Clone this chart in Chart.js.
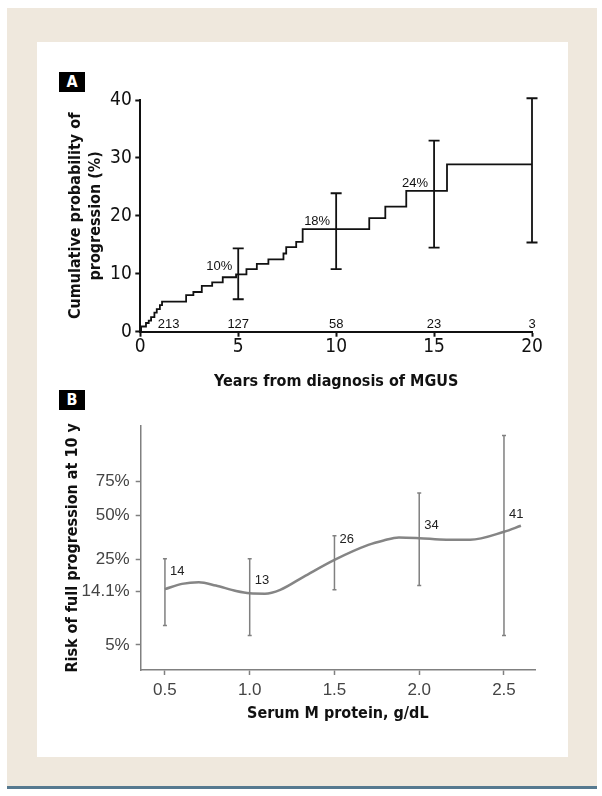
<!DOCTYPE html>
<html>
<head>
<meta charset="utf-8">
<script src="https://cdn.jsdelivr.net/npm/chart.js@4.4.0/dist/chart.umd.min.js"></script>
<style>
  html, body { margin: 0; padding: 0; background: #fff; }
  body { width: 602px; height: 796px; position: relative; overflow: hidden; }
  #frame { position: absolute; left: 7px; top: 8px; width: 590px; height: 778px; background: #efe8dd; }
  #rule { position: absolute; left: 7px; top: 786px; width: 590px; height: 3px; background: #56798f; }
  #panel { position: absolute; left: 37px; top: 42px; width: 531px; height: 715px; background: #fff; }
  .tag { position: absolute; width: 26px; height: 20px; line-height: 20px; background: #000; color: #fff;
         font: bold 16px "DejaVu Sans Condensed", "Liberation Sans", sans-serif; text-align: center; }
  canvas { position: absolute; }
</style>
</head>
<body>
<div id="frame"></div>
<div id="rule"></div>
<div id="panel"></div>
<div class="tag" style="left:59px; top:72px;">A</div>
<div class="tag" style="left:59px; top:390px;">B</div>
<canvas id="chartA" width="531" height="355" style="left:37px; top:42px;"></canvas>
<canvas id="chartB" width="531" height="360" style="left:37px; top:397px;"></canvas>
<script>
// ---- panel A: Kaplan-Meier curve ----
const kmYears = [0, 0.04, 0.29, 0.43, 0.55, 0.72, 0.84, 1.0, 1.11, 2.34, 2.71, 3.14, 3.67, 4.21, 4.89,
                 5.42, 5.95, 6.54, 7.31, 7.45, 7.96, 8.29, 11.69, 12.51, 13.58, 15.66, 20];
const kmProb = [0, 0.9, 1.5, 1.9, 2.5, 3.3, 3.9, 4.6, 5.2, 6.3, 6.85, 7.9, 8.5, 9.4, 9.9,
                10.8, 11.7, 12.5, 13.5, 14.6, 15.5, 17.7, 19.6, 21.6, 24.3, 28.9, 28.9];
const ciYears = [5, 10, 15, 20];
const ciLow = [5.6, 10.8, 14.5, 15.4];
const ciHigh = [14.4, 23.9, 33.0, 40.3];
const ciLabels = ['10%', '18%', '24%', ''];
const atRiskYears = [1.45, 5, 10, 15, 20];
const atRiskCounts = ['213', '127', '58', '23', '3'];
const yearTicks = [0, 5, 10, 15, 20];
const probTicks = [0, 10, 20, 30, 40];

// ---- panel B: risk at 10 years by M protein ----
const mProtein = [0.5, 0.6, 0.7, 0.8, 0.92, 1.0, 1.09, 1.18, 1.32, 1.5, 1.7, 1.79, 1.88, 2.0, 2.16, 2.3, 2.5, 2.6];
const riskPct = [14.6, 16.1, 16.6, 15.6, 14.1, 13.5, 13.4, 14.4, 18.4, 24.8, 32.0, 34.4, 36.1, 35.7, 34.8, 34.8, 39.5, 43.3];
const barProtein = [0.5, 1.0, 1.5, 2.0, 2.5];
const barLow = [7.3, 6.0, 14.4, 15.6, 6.0];
const barHigh = [25.3, 25.3, 37.1, 66.6, 97.0];
const barCounts = ['14', '13', '26', '34', '41'];
const barCountAt = [20.1, 17.3, 34.8, 43.3, 50.7];
const proteinTicks = [0.5, 1.0, 1.5, 2.0, 2.5];
const riskTicks = [5, 14.1, 25, 50, 75];
const riskRange = [3.04, 98.6];

const COND = '"DejaVu Sans Condensed", "Liberation Sans", sans-serif';
const PLAIN = '"Liberation Sans", Arial, sans-serif';

// complementary log-log transform used by the B axis
const cll = p => Math.log10(-Math.log(1 - p / 100));

function stepAt(t) {
    let v = 0;
    for (let i = 0; i < kmYears.length; i++) if (kmYears[i] <= t) v = kmProb[i];
    return v;
}

function drawBars(ctx, xs, ys, xv, lo, hi, cap) {
    for (let i = 0; i < xv.length; i++) {
        const px = xs.getPixelForValue(xv[i]);
        const p1 = ys.getPixelForValue(lo[i]);
        const p2 = ys.getPixelForValue(hi[i]);
        ctx.beginPath();
        ctx.moveTo(px, p1); ctx.lineTo(px, p2);
        ctx.moveTo(px - cap, p1); ctx.lineTo(px + cap, p1);
        ctx.moveTo(px - cap, p2); ctx.lineTo(px + cap, p2);
        ctx.stroke();
    }
}

const annotA = {
    id: 'annotA',
    afterDatasetsDraw(chart) {
        const {ctx, scales: {x, y}} = chart;
        ctx.save();
        ctx.strokeStyle = '#111';
        ctx.lineWidth = 1.8;
        drawBars(ctx, x, y, ciYears, ciLow, ciHigh, 5.5);
        ctx.fillStyle = '#111';
        ctx.font = '13px ' + PLAIN;
        ctx.textAlign = 'right';
        ctx.textBaseline = 'alphabetic';
        ciYears.forEach((t, i) => {
            ctx.fillText(ciLabels[i], x.getPixelForValue(t) - 6, y.getPixelForValue(stepAt(t)) - 4);
        });
        ctx.textAlign = 'center';
        atRiskYears.forEach((t, i) => {
            ctx.fillText(atRiskCounts[i], x.getPixelForValue(t), y.getPixelForValue(0) - 4);
        });
        ctx.restore();
    }
};

const annotB = {
    id: 'annotB',
    afterDatasetsDraw(chart) {
        const {ctx, scales: {x, y}} = chart;
        const tl = barLow.map(cll), th = barHigh.map(cll);
        ctx.save();
        ctx.strokeStyle = '#808080';
        ctx.lineWidth = 1.5;
        drawBars(ctx, x, y, barProtein, tl, th, 2);
        ctx.fillStyle = '#222';
        ctx.font = '13px ' + PLAIN;
        ctx.textAlign = 'left';
        ctx.textBaseline = 'middle';
        barProtein.forEach((m, i) => {
            ctx.fillText(barCounts[i], x.getPixelForValue(m) + 5, y.getPixelForValue(cll(barCountAt[i])));
        });
        ctx.restore();
    }
};

new Chart(document.getElementById('chartA'), {
    type: 'line',
    data: {
        datasets: [{
            data: kmYears.map((t, i) => ({x: t, y: kmProb[i]})),
            stepped: 'before',
            borderColor: '#111',
            borderWidth: 1.8,
            pointRadius: 0,
            fill: false
        }]
    },
    options: {
        responsive: false,
        animation: false,
        devicePixelRatio: 1,
        layout: {padding: {left: 20, right: 36, top: 58, bottom: 0}},
        plugins: {legend: {display: false}, tooltip: {enabled: false}},
        scales: {
            x: {
                type: 'linear', min: 0, max: 20,
                afterBuildTicks: s => { s.ticks = yearTicks.map(v => ({value: v})); },
                afterFit: s => { s.height = 65.3; },
                border: {display: true, color: '#111', width: 2},
                grid: {drawOnChartArea: false, drawTicks: true, tickLength: 5, tickWidth: 2, tickColor: '#111'},
                ticks: {color: '#111', padding: 1, maxRotation: 0, font: {family: COND, size: 19, lineHeight: 1}},
                title: {display: true, text: 'Years from diagnosis of MGUS', color: '#111',
                        padding: {top: 0, bottom: 6}, font: {family: COND, size: 16, weight: 'bold', lineHeight: 1.1}}
            },
            y: {
                type: 'linear', min: 0, max: 40,
                afterBuildTicks: s => { s.ticks = probTicks.map(v => ({value: v})); },
                afterFit: s => { s.width = 83.3; },
                border: {display: true, color: '#111', width: 2},
                grid: {drawOnChartArea: false, drawTicks: true, tickLength: 5, tickWidth: 2, tickColor: '#111'},
                ticks: {color: '#111', padding: 3.5, font: {family: COND, size: 19, lineHeight: 1}},
                title: {display: true, text: ['Cumulative probability of', 'progression (%)'], color: '#111',
                        padding: {top: 9, bottom: 0}, font: {family: COND, size: 16, weight: 'bold', lineHeight: 1.25}}
            }
        }
    },
    plugins: [annotA]
});

new Chart(document.getElementById('chartB'), {
    type: 'line',
    data: {
        datasets: [{
            data: mProtein.map((m, i) => ({x: m, y: cll(riskPct[i])})),
            borderColor: '#858585',
            borderWidth: 2.5,
            pointRadius: 0,
            cubicInterpolationMode: 'monotone',
            fill: false
        }]
    },
    options: {
        responsive: false,
        animation: false,
        devicePixelRatio: 1,
        layout: {padding: {left: 20, right: 33, top: 28.7, bottom: 30}},
        plugins: {legend: {display: false}, tooltip: {enabled: false}},
        scales: {
            x: {
                type: 'linear', min: 0.357, max: 2.683,
                afterBuildTicks: s => { s.ticks = proteinTicks.map(v => ({value: v})); },
                afterFit: s => { s.height = 57; },
                border: {display: true, color: '#808080', width: 1.5},
                grid: {drawOnChartArea: false, drawTicks: true, tickLength: 5, tickWidth: 1.5, tickColor: '#808080'},
                ticks: {color: '#444', padding: 7, maxRotation: 0, callback: v => v.toFixed(1),
                        font: {family: PLAIN, size: 17, lineHeight: 1}},
                title: {display: true, text: 'Serum M protein, g/dL', color: '#111',
                        padding: {top: 0, bottom: 4}, font: {family: COND, size: 16, weight: 'bold', lineHeight: 1.1}}
            },
            y: {
                type: 'linear', min: cll(riskRange[0]), max: cll(riskRange[1]),
                afterBuildTicks: s => { s.ticks = riskTicks.map(p => ({value: cll(p)})); },
                afterFit: s => { s.width = 83.7; },
                border: {display: true, color: '#808080', width: 1.5},
                grid: {drawOnChartArea: false, drawTicks: true, tickLength: 5, tickWidth: 1.5, tickColor: '#808080'},
                ticks: {color: '#444', padding: 6, callback: (v, i) => riskTicks[i] + '%',
                        font: {family: PLAIN, size: 17, lineHeight: 1}},
                title: {display: true, text: 'Risk of full progression at 10 y', color: '#111',
                        padding: {top: 7.5, bottom: 0}, font: {family: COND, size: 16, weight: 'bold', lineHeight: 1.1}}
            }
        }
    },
    plugins: [annotB]
});
</script>
</body>
</html>
